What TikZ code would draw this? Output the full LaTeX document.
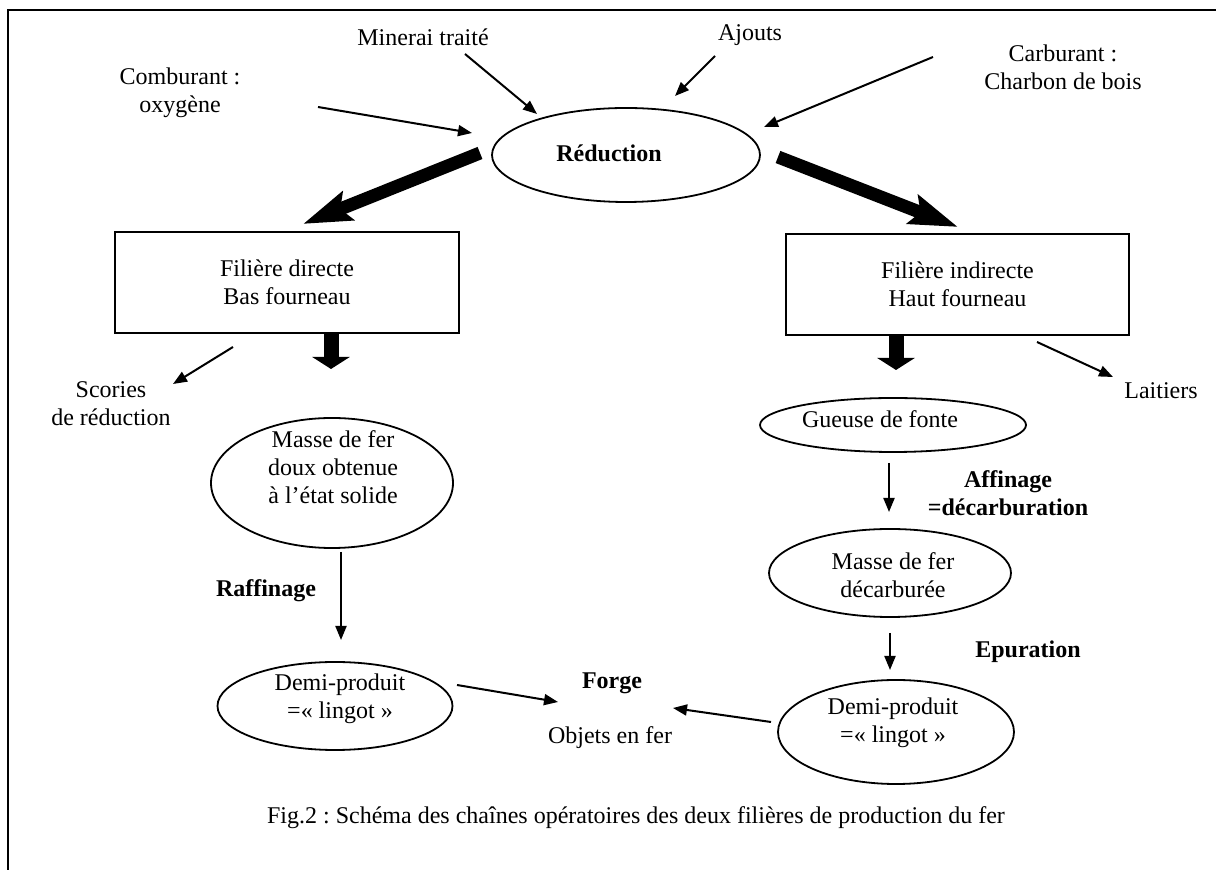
\documentclass[tikz,border=0pt]{standalone}
\usepackage{fontspec}
\setmainfont{Liberation Serif}
\usetikzlibrary{arrows.meta,shapes.geometric}
\begin{document}
\frenchspacing
\begin{tikzpicture}[x=0.5pt,y=-0.5pt,
  every node/.style={font=\fontsize{12}{14}\selectfont, inner sep=0pt, align=center},
  bl/.style={font=\fontsize{12}{14}\selectfont\bfseries},
  ell/.style={draw, ellipse, line width=0.9pt, inner sep=0pt},
  boxn/.style={draw, rectangle, line width=0.9pt, inner sep=0pt},
  thinarr/.style={line width=1pt, -{Triangle[length=7pt,width=5.5pt]}},
  thickarr/.style={line width=6.5pt, -{Stealth[length=24pt,width=15pt,inset=4pt]}},
  blockarr/.style={line width=7.5pt, -{Triangle[length=6pt,width=18.5pt]}},
]
\useasboundingbox (0,0) rectangle (1216,870);
% frame
\draw[line width=1pt] (8,870) -- (8,10) -- (1216,10);

% inputs
\node (min) at (423,37) {Minerai traité};
\node (ajo) at (750,35) {Ajouts};
\node (comb) at (180,93) {Comburant :\\oxygène};
\node (carb) at (1063,67) {Carburant :\\Charbon de bois};

% reduction
\node[ell, minimum width=134pt, minimum height=47pt] (red) at (626,155) {};
\node[bl] (redt) at (609,153) {Réduction};

\coordinate (minA) at (465,54); \coordinate (minB) at (537,114);
\coordinate (ajoA) at (715,56); \coordinate (ajoB) at (675,96);
\coordinate (combA) at (318,107); \coordinate (combB) at (472,133);
\coordinate (carbA) at (933,57); \coordinate (carbB) at (764,127);
\draw[thinarr] (minA) -- (minB);
\draw[thinarr] (ajoA) -- (ajoB);
\draw[thinarr] (combA) -- (combB);
\draw[thinarr] (carbA) -- (carbB);

% boxes
\node[boxn, minimum width=172pt, minimum height=50.5pt] (dir) at (287,282.5) {Filière directe\\Bas fourneau};
\node[boxn, minimum width=171.5pt, minimum height=50.5pt] (ind) at (957.5,284.5) {Filière indirecte\\Haut fourneau};

\coordinate (tlA) at (480,153); \coordinate (tlB) at (303,224);
\coordinate (trA) at (778,157); \coordinate (trB) at (958,227);
\draw[thickarr] (tlA) -- (tlB);
\draw[thickarr] (trA) -- (trB);

% by-products
\node (sco) at (111,404) {Scories\\de réduction};
\node (lai) at (1161,391) {Laitiers};
\coordinate (scoA) at (233,347); \coordinate (scoB) at (173,384);
\coordinate (laiA) at (1037,342); \coordinate (laiB) at (1113,377);
\draw[thinarr] (scoA) -- (scoB);
\draw[thinarr] (laiA) -- (laiB);

% block arrows down
\coordinate (bdlA) at (331,333); \coordinate (bdlB) at (331,369);
\coordinate (bdrA) at (896,335); \coordinate (bdrB) at (896,370);
\draw[blockarr] (bdlA) -- (bdlB);
\draw[blockarr] (bdrA) -- (bdrB);

% left chain
\node[ell, minimum width=121pt, minimum height=65pt] (mas) at (332,483) {};
\node (mast) at (333,467) {Masse de fer\\doux obtenue\\à l’état solide};
\node[bl] (raf) at (266,591) {Raffinage};
\node[ell, minimum width=117.5pt, minimum height=44pt] (dpl) at (335,706) {};
\node (dplt) at (340,699) {Demi-produit\\=« lingot »};
\coordinate (mlA) at (341,552); \coordinate (mlB) at (341,640);
\draw[thinarr] (mlA) -- (mlB);

% right chain
\node[ell, minimum width=133pt, minimum height=27pt] (gue) at (893,425) {};
\node (guet) at (880,419) {Gueuse de fonte};
\node[bl] (aff) at (1008,493) {Affinage\\=décarburation};
\node[ell, minimum width=121pt, minimum height=44pt] (mdc) at (890,573) {};
\node (mdct) at (893,575) {Masse de fer\\décarburée};
\node[bl] (epu) at (1028,652) {Epuration};
\node[ell, minimum width=118pt, minimum height=52pt] (dpr) at (896,732) {};
\node (dprt) at (893,723) {Demi-produit\\=« lingot »};
\coordinate (gA) at (889,463); \coordinate (gB) at (889,512);
\coordinate (mA) at (890,633); \coordinate (mB) at (890,670);
\draw[thinarr] (gA) -- (gB);
\draw[thinarr] (mA) -- (mB);

% forge
\node[bl] (for) at (612,683) {Forge};
\node (obj) at (610,738) {Objets en fer};
\coordinate (flA) at (457,685); \coordinate (flB) at (558,702);
\coordinate (frA) at (771,722); \coordinate (frB) at (673,708);
\draw[thinarr] (flA) -- (flB);
\draw[thinarr] (frA) -- (frB);

% caption
\node (cap) at (636,818) {Fig.2 : Schéma des chaînes opératoires des deux filières de production du fer};
\end{tikzpicture}
\end{document}
